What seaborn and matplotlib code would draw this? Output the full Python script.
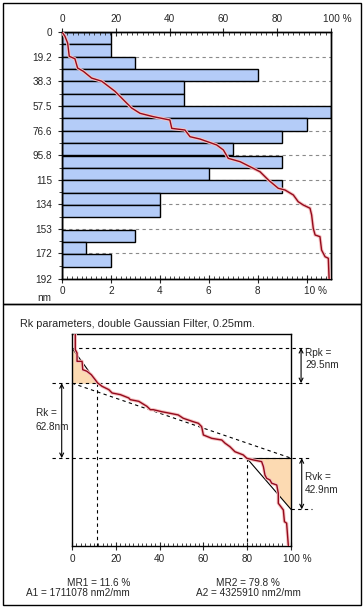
import numpy as np
import pandas as pd
import matplotlib
matplotlib.use("Agg")
import matplotlib.pyplot as plt
import matplotlib.transforms as mtransforms
from matplotlib.patches import Rectangle
from matplotlib.ticker import MultipleLocator, FixedLocator
import seaborn as sns

# ---------------- data ----------------
depth_ticks = [0, 19.2, 38.3, 57.5, 76.6, 95.8, 115, 134, 153, 172, 192]
depth_labels = ["0", "19.2", "38.3", "57.5", "76.6", "95.8", "115", "134", "153", "172", "192"]
hist_pct = [2, 2, 3, 8, 5, 5, 11, 10, 9, 7, 9, 6, 9, 4, 4, 0, 3, 1, 2, 0]
hist_ticks = [0, 2, 4, 6, 8, 10]
hist_labels = ["0", "2", "4", "6", "8", "10 %"]
ratio_ticks = [0, 20, 40, 60, 80, 100]
ratio_labels = ["0", "20", "40", "60", "80", "100 %"]

abbott_pct = [0, 1.1, 2.1, 2.7, 4.8, 5.8, 7.9, 11.0, 14.8, 19.7,
              23.4, 25.9, 29.0, 33.9, 40.1, 40.8, 45.7, 47.6, 51.3, 57.5,
              60.0, 61.8, 66.2, 69.9, 73.6, 76.7, 80.4, 82.9, 86.0, 87.8,
              89.7, 92.2, 92.8, 93.4, 94.1, 95.9, 96.5, 97.8, 99.0, 99.3]
abbott_depth = [0, 3.3, 8.6, 18.9, 20.8, 28.0, 30.5, 35.8, 38.3, 46.1,
                53.9, 59.1, 63.2, 65.8, 68.4, 74.9, 76.2, 81.4, 83.2, 87.8,
                91.7, 98.2, 100.8, 104.7, 108.6, 115.0, 121.5, 122.8, 126.7, 131.9,
                134.5, 137.0, 142.2, 152.6, 157.8, 159.1, 169.5, 174.7, 175.9, 192]

rk_pct = [1.5, 1.5, 2.3, 2.3, 4.6, 4.9, 6.8, 8.8, 10.6, 11.7,
          13.7, 16.8, 18.3, 22.1, 25.9, 26.6, 30.5, 34.2, 35.8, 37.1,
          41.0, 44.7, 48.5, 50.8, 55.4, 57.7, 59.2, 60.0, 63.8, 68.4,
          69.9, 72.1, 74.4, 78.2, 79.8, 82.8, 86.6, 87.4, 88.1, 88.9,
          90.4, 91.2, 93.5, 94.2, 94.2, 96.5, 97.0, 98.0, 98.8]
rk_depth = [0, 13.1, 15.9, 22.9, 22.9, 29.9, 31.2, 34.1, 38.3, 41.0,
            43.8, 46.6, 49.4, 50.8, 53.6, 55.0, 56.4, 60.6, 63.4, 63.4,
            65.1, 66.4, 67.8, 70.6, 73.5, 74.8, 77.6, 84.6, 87.4, 88.8,
            91.5, 94.4, 98.6, 101.3, 104.1, 105.5, 106.9, 111.1, 118.1, 120.9,
            122.3, 125.0, 126.5, 133.4, 141.8, 147.4, 157.2, 158.5, 177.6]
rk_range = 177.6          # nm spanned by the lower chart
peak_level = 11.7         # nm below top where Rpk starts
mr1, mr2 = 11.6, 79.8
rpk, rk, rvk = 29.5, 62.8, 42.9
a1, a2 = 1711078, 4325910

# ---------------- style ----------------
sns.set_style("white")
plt.rcParams["font.family"] = ["Liberation Sans", "DejaVu Sans"]
plt.rcParams["font.size"] = 7.2

W, H = 364, 610
fig = plt.figure(figsize=(W / 100, H / 100), dpi=100)
fig.patch.set_facecolor("white")


def fx(x):
    return x / W


def fy(y):
    return 1 - y / H


BAR = "#B4CCF8"
RED = "#940A1C"
GLOW = "#F6C4C4"
PEACH = "#FCDAB2"
GRAY = "#8A8A8A"

# frames
for (y0, y1) in [(3, 304), (304, 605)]:
    fig.add_artist(Rectangle((fx(3), fy(y1)), fx(361) - fx(3), fy(y0) - fy(y1),
                             transform=fig.transFigure, fill=False, lw=1, ec="black"))

# ---------------- top panel ----------------
ax = fig.add_axes([fx(62), fy(279), fx(331) - fx(62), fy(32) - fy(279)])
nbins = len(hist_pct)
bw = depth_ticks[-1] / nbins
centers = (np.arange(nbins) + 0.5) * bw
df = pd.DataFrame({"pct": hist_pct, "depth": centers})
sns.barplot(data=df, x="pct", y="depth", orient="y", native_scale=True, width=1.0,
            color=BAR, saturation=1, edgecolor="black", linewidth=1, errorbar=None,
            ax=ax, zorder=2)
ax.set_xlim(0, 11)
ax.set_ylim(depth_ticks[-1], 0)
ax.set_xlabel("")
ax.set_ylabel("")
ax.yaxis.set_major_locator(FixedLocator(depth_ticks))
ax.set_yticklabels(depth_labels)
mids = [(a + b) / 2 for a, b in zip(depth_ticks[:-1], depth_ticks[1:])]
ax.yaxis.set_minor_locator(FixedLocator(mids))
ax.xaxis.set_major_locator(FixedLocator(hist_ticks))
ax.set_xticklabels(hist_labels)
ax.xaxis.set_minor_locator(MultipleLocator(0.2))
ax.grid(False)
ax.yaxis.grid(True, which="major", linestyle=(0, (3, 3)), color=GRAY, lw=0.8, zorder=0)
ax.set_axisbelow(True)
ax.tick_params(axis="x", which="major", direction="inout", length=6, width=0.8, pad=2,
               bottom=True, top=False, labelbottom=True, labeltop=False)
ax.tick_params(axis="x", which="minor", direction="in", length=2.5, width=0.6,
               bottom=True, top=False)
ax.tick_params(axis="y", which="major", direction="out", length=3, width=0.8, pad=4, left=True)
ax.tick_params(axis="y", which="minor", direction="out", length=2, width=0.6, left=True)
for s in ax.spines.values():
    s.set_color("black")
    s.set_linewidth(1)

ax2 = ax.twiny()
sns.lineplot(x=abbott_pct, y=abbott_depth, sort=False, estimator=None, ax=ax2,
             color=GLOW, lw=2.4, zorder=3)
sns.lineplot(x=abbott_pct, y=abbott_depth, sort=False, estimator=None, ax=ax2,
             color=RED, lw=1.0, zorder=4)
ax2.set_xlim(0, 100)
ax.set_ylim(depth_ticks[-1], 0)
ax2.set_xlabel("")
ax2.set_ylabel("")
ax2.xaxis.set_major_locator(FixedLocator(ratio_ticks))
ax2.set_xticklabels(ratio_labels)
ax2.xaxis.set_minor_locator(MultipleLocator(2))
ax2.tick_params(axis="x", which="major", direction="inout", length=6, width=0.8, pad=3,
                top=True, bottom=False, labeltop=True, labelbottom=False)
ax2.tick_params(axis="x", which="minor", direction="in", length=2.5, width=0.6,
                top=True, bottom=False)
for s in ax2.spines.values():
    s.set_color("black")
    s.set_linewidth(1)


def shift_label(axis_obj, text, dx_px):
    for lab in axis_obj.get_xticklabels():
        if lab.get_text() == text:
            lab.set_transform(lab.get_transform() +
                              mtransforms.ScaledTranslation(dx_px / 100, 0, fig.dpi_scale_trans))


shift_label(ax2, "100 %", 6)
shift_label(ax, "10 %", 9)

fig.text(fx(44.5), fy(298), "nm", ha="center", va="center")

# ---------------- bottom panel ----------------
ax3 = fig.add_axes([fx(72), fy(546), fx(291) - fx(72), fy(334) - fy(546)])
ax3.set_xlim(0, 100)
ax3.set_ylim(rk_range, 0)
lv0 = peak_level
lv1 = lv0 + rpk
lv2 = lv1 + rk
lv3 = lv2 + rvk

d1 = np.linspace(lv0, lv1, 300)
c1 = np.interp(d1, rk_depth, rk_pct)
g1 = mr1 * (d1 - lv0) / (lv1 - lv0)
ax3.fill_betweenx(d1, 0, np.minimum(c1, g1), color=PEACH, lw=0, zorder=1)
d2 = np.linspace(lv2, lv3, 300)
c2 = np.interp(d2, rk_depth, rk_pct)
g2 = mr2 + (100 - mr2) * (d2 - lv2) / (lv3 - lv2)
ax3.fill_betweenx(d2, np.maximum(c2, g2), 100, color=PEACH, lw=0, zorder=1)

dash = dict(color="black", lw=0.8, linestyle=(0, (3, 3)), clip_on=False, zorder=2)
ax3.plot([0, 109.5], [lv0, lv0], **dash)
ax3.plot([-9.3, 109.5], [lv1, lv1], **dash)
ax3.plot([-9.3, 109.5], [lv2, lv2], **dash)
ax3.plot([100, 109.5], [lv3, lv3], **dash)
ax3.plot([0, 100], [lv1, lv2], **dash)
ax3.plot([mr1, mr1], [lv1, rk_range], **dash)
ax3.plot([mr2, mr2], [lv2, rk_range], **dash)
ax3.plot([0, mr1], [lv0, lv1], color="black", lw=0.8, zorder=3)
ax3.plot([mr2, 100], [lv2, lv3], color="black", lw=0.8, zorder=3)
ax3.plot([mr2, 100], [lv2, lv2], color="black", lw=0.8, zorder=3)

sns.lineplot(x=rk_pct, y=rk_depth, sort=False, estimator=None, ax=ax3,
             color=GLOW, lw=2.4, zorder=4)
sns.lineplot(x=rk_pct, y=rk_depth, sort=False, estimator=None, ax=ax3,
             color=RED, lw=1.0, zorder=5)
ax3.set_xlim(0, 100)
ax3.set_ylim(rk_range, 0)
ax3.set_xlabel("")
ax3.set_ylabel("")

arrow = dict(arrowstyle="<->", lw=0.8, color="black", mutation_scale=7,
             shrinkA=0, shrinkB=0)
for xa, ya, yb in [(104.6, lv0, lv1), (-4.7, lv1, lv2), (104.9, lv2, lv3)]:
    ax3.annotate("", xy=(xa, ya), xytext=(xa, yb), arrowprops=arrow,
                 annotation_clip=False)

ax3.set_yticks([])
ax3.xaxis.set_major_locator(FixedLocator(ratio_ticks))
ax3.set_xticklabels(ratio_labels)
ax3.xaxis.set_minor_locator(MultipleLocator(2))
ax3.tick_params(axis="x", which="major", direction="inout", length=6, width=0.8, pad=3,
                bottom=True, top=False)
ax3.tick_params(axis="x", which="minor", direction="in", length=2.5, width=0.6,
                bottom=True, top=False)
for s in ax3.spines.values():
    s.set_color("black")
    s.set_linewidth(1)
shift_label(ax3, "100 %", 6)

fig.text(fx(20), fy(324), "Rk parameters, double Gaussian Filter, 0.25mm.",
         ha="left", va="center", fontsize=7.8)
fig.text(fx(305), fy(353), "Rpk =", ha="left", va="center")
fig.text(fx(305), fy(365), f"{rpk}nm", ha="left", va="center")
fig.text(fx(36), fy(413), "Rk =", ha="left", va="center")
fig.text(fx(36), fy(427), f"{rk}nm", ha="left", va="center")
fig.text(fx(305), fy(477), "Rvk =", ha="left", va="center")
fig.text(fx(305), fy(490), f"{rvk}nm", ha="left", va="center")
fig.text(fx(130), fy(582.5), f"MR1 = {mr1} %", ha="right", va="center")
fig.text(fx(130), fy(593), f"A1 = {a1} nm2/mm", ha="right", va="center")
fig.text(fx(248), fy(582.5), f"MR2 = {mr2} %", ha="center", va="center")
fig.text(fx(248), fy(593), f"A2 = {a2} nm2/mm", ha="center", va="center")

fig.savefig("out.png", dpi=100, facecolor="white")
